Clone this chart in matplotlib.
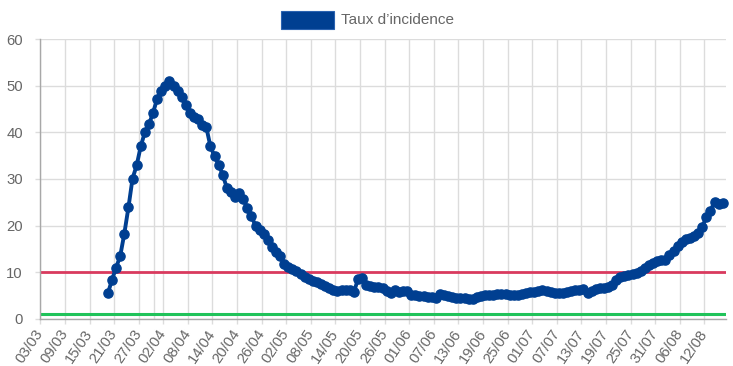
import matplotlib
matplotlib.use('Agg')
import matplotlib.pyplot as plt
import matplotlib.dates as mdates
import pandas as pd
from matplotlib.patches import Rectangle

plt.rcParams['font.family'] = ['Liberation Sans', 'DejaVu Sans']

# ---- data -------------------------------------------------------------
series_label = 'Taux d\u2019incidence'
first_date = '2020-03-19'
incidence = [
    5.5, 8.4, 11.0, 13.5, 18.3, 23.9, 30.1, 32.9, 37.0, 40.0,
    41.7, 44.2, 47.2, 48.9, 50.0, 51.0, 50.0, 48.8, 47.5, 45.8,
    44.2, 43.2, 42.8, 41.6, 41.1, 37.0, 34.9, 33.1, 30.9, 28.1,
    27.3, 26.2, 27.0, 25.7, 23.8, 22.0, 20.0, 19.0, 18.1, 17.0,
    15.5, 14.4, 13.4, 11.8, 11.2, 10.7, 10.2, 9.6, 9.0, 8.5,
    8.2, 7.9, 7.5, 7.1, 6.5, 6.1, 6.0, 6.1, 6.2, 6.1,
    5.7, 8.5, 8.7, 7.3, 7.1, 6.9, 6.8, 6.5, 6.0, 5.5,
    6.2, 5.8, 5.9, 6.0, 5.1, 5.0, 4.9, 4.8, 4.7, 4.6,
    4.5, 5.3, 5.0, 4.8, 4.6, 4.5, 4.4, 4.4, 4.3, 4.3,
    4.6, 4.8, 5.0, 5.1, 5.0, 5.3, 5.4, 5.3, 5.2, 5.1,
    5.2, 5.4, 5.6, 5.7, 5.8, 5.9, 6.1, 6.0, 5.8, 5.6,
    5.5, 5.6, 5.8, 5.9, 6.1, 6.2, 6.4, 5.5, 6.0, 6.3,
    6.5, 6.7, 6.9, 7.2, 8.4, 8.9, 9.2, 9.5, 9.7, 9.9,
    10.3, 10.9, 11.5, 12.0, 12.4, 12.6, 12.7, 13.6, 14.6, 15.6,
    16.5, 17.1, 17.4, 17.7, 18.4, 19.7, 21.9, 23.2, 25.1, 24.7,
    24.9,
]
alert_threshold = 10
low_threshold = 1
axis_start = '2020-03-03'
axis_end = '2020-08-17 05:00'
tick_step = '6D'
last_tick = '2020-08-12'
y_ticks = [0, 10, 20, 30, 40, 50, 60]

# ---- style ------------------------------------------------------------
blue = '#003f91'
red = '#d93a5e'
green = '#20c35a'
grid_c = '#dcdcdc'
spine_c = '#a8a8a8'
text_c = '#666666'

dates = pd.date_range(first_date, periods=len(incidence), freq='D') + pd.Timedelta(hours=12)
tick_dates = pd.date_range(axis_start, last_tick, freq=tick_step)
tick_labels = [d.strftime('%d/%m') for d in tick_dates]

fig = plt.figure(figsize=(7.33, 3.66), dpi=100)
ax = fig.add_axes([0.055, 0.129, 0.935, 0.764])

ax.set_xlim(pd.Timestamp(axis_start), pd.Timestamp(axis_end))
ax.set_ylim(0, 60)
ax.set_yticks(y_ticks)
ax.set_xticks(tick_dates)
ax.set_xticklabels(tick_labels, rotation=56, ha='right', va='center',
                   rotation_mode='anchor')

ax.grid(True, color=grid_c, linewidth=1.0)
ax.set_axisbelow(True)
ax.axvline(pd.Timestamp('2020-03-30 19:30'), color=grid_c, linewidth=1.0, zorder=0.5)

for s in ['top', 'right']:
    ax.spines[s].set_visible(False)
for s in ['left', 'bottom']:
    ax.spines[s].set_color(spine_c)
    ax.spines[s].set_linewidth(1.0)

ax.tick_params(axis='both', colors=grid_c, labelcolor=text_c, labelsize=10.7,
               length=3.5, width=1.0)
ax.tick_params(axis='y', pad=9)
ax.tick_params(axis='x', pad=5)

ax.axhline(alert_threshold, color=red, linewidth=2.0, zorder=2)
ax.axhline(low_threshold, color=green, linewidth=2.2, zorder=2)

ax.plot(dates, incidence, color=blue, linewidth=2.8, marker='o',
        markersize=6.6, markerfacecolor=blue, markeredgecolor=blue, zorder=3,
        clip_on=False)

# legend (top centre)
fig.patches.append(Rectangle((280.7 / 733, 1 - 29 / 366), 53.6 / 733, 18.3 / 366,
                             transform=fig.transFigure, facecolor=blue,
                             edgecolor='#2a62b0', linewidth=0.8))
fig.text(341 / 733, 1 - 19.5 / 366, series_label, color=text_c, fontsize=11,
         ha='left', va='center')

fig.savefig('out.png', dpi=100)
